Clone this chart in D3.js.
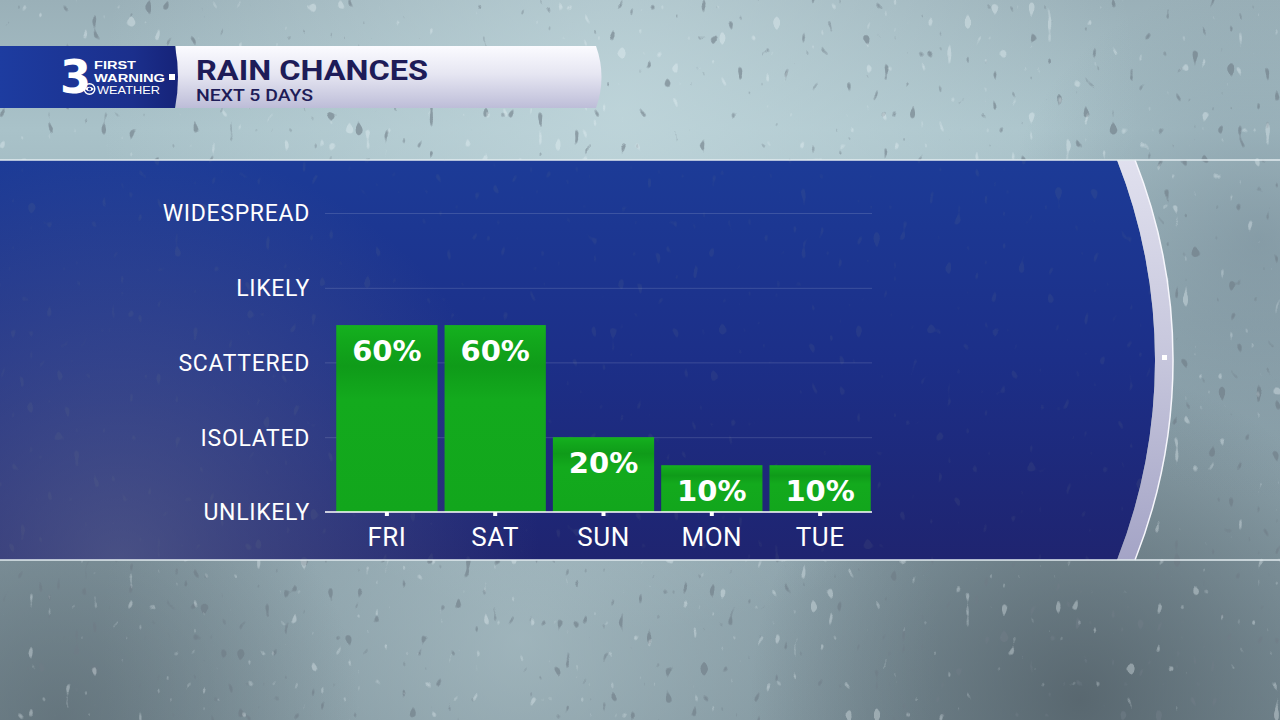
<!DOCTYPE html>
<html>
<head>
<meta charset="utf-8">
<title>Rain Chances – Next 5 Days</title>
<script src="https://cdn.jsdelivr.net/npm/d3@7"></script>
<style>
  html, body { margin: 0; padding: 0; background: #8fa6b0; }
  svg { display: block; }
</style>
</head>
<body>
<div id="chart"></div>
<script>
// ── data ────────────────────────────────────────────────
const days        = ['FRI', 'SAT', 'SUN', 'MON', 'TUE'];
const chances     = [60, 60, 20, 10, 10];
const levelLabels = ['UNLIKELY', 'ISOLATED', 'SCATTERED', 'LIKELY', 'WIDESPREAD'];
const levelValues = [-6.7, 20, 46.7, 73.3, 100];
const titleText   = 'RAIN CHANCES';
const subtitle    = 'NEXT 5 DAYS';
const logoLines   = ['FIRST', 'WARNING', 'WEATHER'];

const W = 1280, H = 720;

const svg = d3.select('#chart').append('svg')
  .attr('width', W).attr('height', H)
  .attr('viewBox', `0 0 ${W} ${H}`);

const defs = svg.append('defs');

function linGrad(id, stops, x2 = 0, y2 = 1) {
  const g = defs.append('linearGradient').attr('id', id)
    .attr('x1', 0).attr('y1', 0).attr('x2', x2).attr('y2', y2);
  stops.forEach(([o, c, a]) => g.append('stop')
    .attr('offset', o).attr('stop-color', c).attr('stop-opacity', a == null ? 1 : a));
  return g;
}
function radGrad(id, cx, cy, r, stops) {
  const g = defs.append('radialGradient').attr('id', id)
    .attr('gradientUnits', 'userSpaceOnUse')
    .attr('cx', cx).attr('cy', cy).attr('r', r);
  stops.forEach(([o, c, a]) => g.append('stop')
    .attr('offset', o).attr('stop-color', c).attr('stop-opacity', a == null ? 1 : a));
}

// ── gradients ───────────────────────────────────────────
linGrad('bg', [[0, '#9ab0b8'], [0.18, '#a9c2c9'], [0.45, '#93aab3'], [0.8, '#8499a2'], [1, '#7b8f98']]);
radGrad('bgGlowTop', 620, 110, 520, [[0, '#c4dadf', 0.75], [1, '#c4dadf', 0]]);
radGrad('bgGlowBot', 520, 640, 420, [[0, '#b3c9cf', 0.6], [1, '#b3c9cf', 0]]);
radGrad('bgDarkR', 1080, 700, 330, [[0, '#4d5a62', 0.75], [1, '#4d5a62', 0]]);
radGrad('bgDarkL', 60, 720, 300, [[0, '#56646c', 0.6], [1, '#56646c', 0]]);
radGrad('bgDarkTR', 1260, 240, 260, [[0, '#6f8390', 0.5], [1, '#6f8390', 0]]);

linGrad('band', [[0, '#1c3b97'], [0.5, '#1c2f88'], [1, '#1f2470']]);
radGrad('bandGrey', 120, 560, 420, [[0, '#6a7394', 0.55], [1, '#6a7394', 0]]);
linGrad('rim', [[0, '#e0e0ee'], [0.5, '#c6c6dc'], [1, '#a4a4c6']]);
linGrad('logoBox', [[0, '#1d3ca0'], [0.75, '#1b2f8c'], [1, '#162379']], 1, 0);
linGrad('titleBar', [[0, '#fbfbff'], [0.45, '#e6e6f2'], [1, '#bdbdd8']]);
linGrad('barFill', [[0, '#15b11f'], [0.08, '#12a81c'], [0.22, '#0f9b19'], [0.4, '#13aa1d'], [1, '#12a61c']]);

// rain-drop texture from deterministic noise
function dropFilter(id, freq, seed, rgb, k, b) {
  const f = defs.append('filter').attr('id', id)
    .attr('x', 0).attr('y', 0).attr('width', 1).attr('height', 1);
  f.append('feTurbulence').attr('type', 'fractalNoise')
    .attr('baseFrequency', freq).attr('numOctaves', 1).attr('seed', seed).attr('result', 'n');
  f.append('feColorMatrix').attr('in', 'n').attr('type', 'matrix')
    .attr('values', `0 0 0 0 ${rgb[0]}  0 0 0 0 ${rgb[1]}  0 0 0 0 ${rgb[2]}  ${k} 0 0 0 ${b}`);
}
dropFilter('dropsDark', '0.11 0.065', 7, [0.16, 0.2, 0.24], 22, -15.2);
dropFilter('dropsLight', '0.11 0.065', 19, [0.85, 0.92, 0.95], 22, -15.4);

// ── background photo stand-in ──────────────────────────
const bg = svg.append('g');
bg.append('rect').attr('width', W).attr('height', H).attr('fill', 'url(#bg)');
['bgGlowTop', 'bgGlowBot', 'bgDarkR', 'bgDarkL', 'bgDarkTR'].forEach(id =>
  bg.append('rect').attr('width', W).attr('height', H).attr('fill', `url(#${id})`));
bg.append('rect').attr('width', W).attr('height', H)
  .attr('filter', 'url(#dropsDark)').attr('opacity', 0.6);
bg.append('rect').attr('width', W).attr('height', H)
  .attr('filter', 'url(#dropsLight)').attr('opacity', 0.35);

// ── blue band with curved rim ──────────────────────────
const bandTop = 160, bandBot = 560, R = 545;
const innerX = 1117, outerX = 1135;
const bandPath = `M0,${bandTop} L${innerX},${bandTop} A${R},${R} 0 0 1 ${innerX},${bandBot} L0,${bandBot} Z`;

svg.append('path').attr('d', bandPath).attr('fill', 'url(#band)');
svg.append('path').attr('d', bandPath).attr('fill', 'url(#bandGrey)');
svg.append('path').attr('d', bandPath).attr('filter', 'url(#dropsDark)').attr('opacity', 0.12);

svg.append('path')
  .attr('d', `M${innerX},${bandTop} L${outerX},${bandTop} A${R},${R} 0 0 1 ${outerX},${bandBot} ` +
             `L${innerX},${bandBot} A${R},${R} 0 0 0 ${innerX},${bandTop} Z`)
  .attr('fill', 'url(#rim)');
svg.append('path')
  .attr('d', `M${outerX},${bandTop} A${R},${R} 0 0 1 ${outerX},${bandBot}`)
  .attr('fill', 'none').attr('stroke', '#f6f6fc').attr('stroke-width', 1.5);
svg.append('rect').attr('x', 1162).attr('y', 355).attr('width', 5).attr('height', 5).attr('fill', '#ffffff');

[bandTop, bandBot].forEach(yy => svg.append('line')
  .attr('x1', 0).attr('x2', W).attr('y1', yy).attr('y2', yy)
  .attr('stroke', '#e2ebef').attr('stroke-width', 1.5));

// ── header ─────────────────────────────────────────────
const head = svg.append('g');
head.append('path')
  .attr('d', 'M176,46 L596,46 Q607,77 596,108 L176,108 Z')
  .attr('fill', 'url(#titleBar)');
head.append('path')
  .attr('d', 'M0,46 L175,46 Q181,77 175,108 L0,108 Z')
  .attr('fill', 'url(#logoBox)');

const ttl = head.append('text')
  .attr('font-family', 'Roboto, sans-serif').attr('fill', '#1e1c58');
ttl.append('tspan').attr('x', 196).attr('y', 80)
  .attr('font-weight', 700).attr('font-size', 28)
  .attr('textLength', 232).attr('lengthAdjust', 'spacingAndGlyphs')
  .text(titleText);
ttl.append('tspan').attr('x', 196).attr('y', 101)
  .attr('font-weight', 500).attr('font-size', 16.5)
  .attr('textLength', 117).attr('lengthAdjust', 'spacingAndGlyphs')
  .text(subtitle);

// logo
const logo = head.append('g').attr('fill', '#ffffff');
logo.append('text').attr('x', 60).attr('y', 93)
  .attr('font-family', 'DejaVu Sans, sans-serif').attr('font-weight', 700).attr('font-size', 47)
  .attr('textLength', 31).attr('lengthAdjust', 'spacingAndGlyphs').text('3');
const lt = logo.append('text').attr('font-family', '"Liberation Sans", Arial, sans-serif');
lt.append('tspan').attr('x', 94).attr('y', 69.3)
  .attr('font-weight', 700).attr('font-size', 10.9)
  .attr('textLength', 42).attr('lengthAdjust', 'spacingAndGlyphs').text(logoLines[0]);
lt.append('tspan').attr('x', 94).attr('y', 81.7)
  .attr('font-weight', 700).attr('font-size', 10.9)
  .attr('textLength', 71).attr('lengthAdjust', 'spacingAndGlyphs').text(logoLines[1]);
lt.append('tspan').attr('x', 97).attr('y', 94.1)
  .attr('font-weight', 400).attr('font-size', 10.9)
  .attr('textLength', 63).attr('lengthAdjust', 'spacingAndGlyphs').text(logoLines[2]);
logo.append('rect').attr('x', 169).attr('y', 74).attr('width', 6).attr('height', 6);
logo.append('circle').attr('cx', 89.5).attr('cy', 89).attr('r', 5.3)
  .attr('fill', 'none').attr('stroke', '#ffffff').attr('stroke-width', 1.4);
logo.append('path').attr('d', 'M85,89 Q89.5,84.5 94,89 Q89.5,93.5 85,89 Z');
logo.append('circle').attr('cx', 89.5).attr('cy', 89).attr('r', 1.6).attr('fill', '#1b2f8c');

// ── chart ──────────────────────────────────────────────
const axisY = 512, plotL = 325, plotR = 872;

const x = d3.scaleBand().domain(days).range([333, 874])
  .paddingInner(0.065).paddingOuter(0.03);
const y = d3.scaleLinear().domain([levelValues[0], 100]).range([axisY, 213]);

const chart = svg.append('g');

// gridlines
chart.append('g')
  .attr('transform', `translate(${plotR},0)`)
  .call(d3.axisLeft(y).tickValues(levelValues.slice(1)).tickSize(plotR - plotL).tickFormat(''))
  .call(g => g.select('.domain').remove())
  .call(g => g.selectAll('.tick line').attr('stroke', '#ffffff').attr('stroke-opacity', 0.14));

// level labels
chart.append('g')
  .attr('transform', `translate(${plotL},0)`)
  .call(d3.axisLeft(y).tickValues(levelValues).tickSize(0).tickPadding(15)
    .tickFormat((d, i) => levelLabels[i]))
  .call(g => g.select('.domain').remove())
  .call(g => g.selectAll('.tick text')
    .attr('fill', '#ffffff').attr('font-family', 'Roboto, sans-serif')
    .attr('font-size', 23).attr('letter-spacing', 0.7).attr('dy', '0.34em'));

// bars
const data = days.map((d, i) => ({ day: d, value: chances[i] }));

chart.selectAll('.bar')
  .data(data)
  .enter()
  .append('rect')
    .attr('class', 'bar')
    .attr('x', d => x(d.day))
    .attr('y', d => y(d.value))
    .attr('width', x.bandwidth())
    .attr('height', d => axisY - y(d.value))
    .attr('fill', 'url(#barFill)');

chart.selectAll('.val')
  .data(data)
  .enter()
  .append('text')
    .attr('class', 'val')
    .attr('x', d => x(d.day) + x.bandwidth() / 2)
    .attr('y', d => y(d.value) + 36)
    .attr('text-anchor', 'middle')
    .attr('font-family', 'DejaVu Sans, sans-serif')
    .attr('font-weight', 700)
    .attr('font-size', 29)
    .attr('fill', '#ffffff')
    .text(d => d.value + '%');

// x axis
chart.append('line')
  .attr('x1', plotL).attr('x2', plotR).attr('y1', axisY).attr('y2', axisY)
  .attr('stroke', '#ffffff').attr('stroke-width', 1.6);

chart.append('g')
  .attr('transform', `translate(0,${axisY})`)
  .call(d3.axisBottom(x).tickSize(0))
  .call(g => g.select('.domain').remove())
  .call(g => g.selectAll('.tick text')
    .attr('y', 34).attr('dy', 0)
    .attr('fill', '#ffffff').attr('font-family', 'Roboto, sans-serif')
    .attr('font-size', 26).attr('letter-spacing', 0.5));

chart.selectAll('.tickmark')
  .data(days)
  .enter()
  .append('rect')
    .attr('class', 'tickmark')
    .attr('x', d => x(d) + x.bandwidth() / 2 - 2)
    .attr('y', axisY)
    .attr('width', 4)
    .attr('height', 4)
    .attr('fill', '#ffffff');
</script>
</body>
</html>
